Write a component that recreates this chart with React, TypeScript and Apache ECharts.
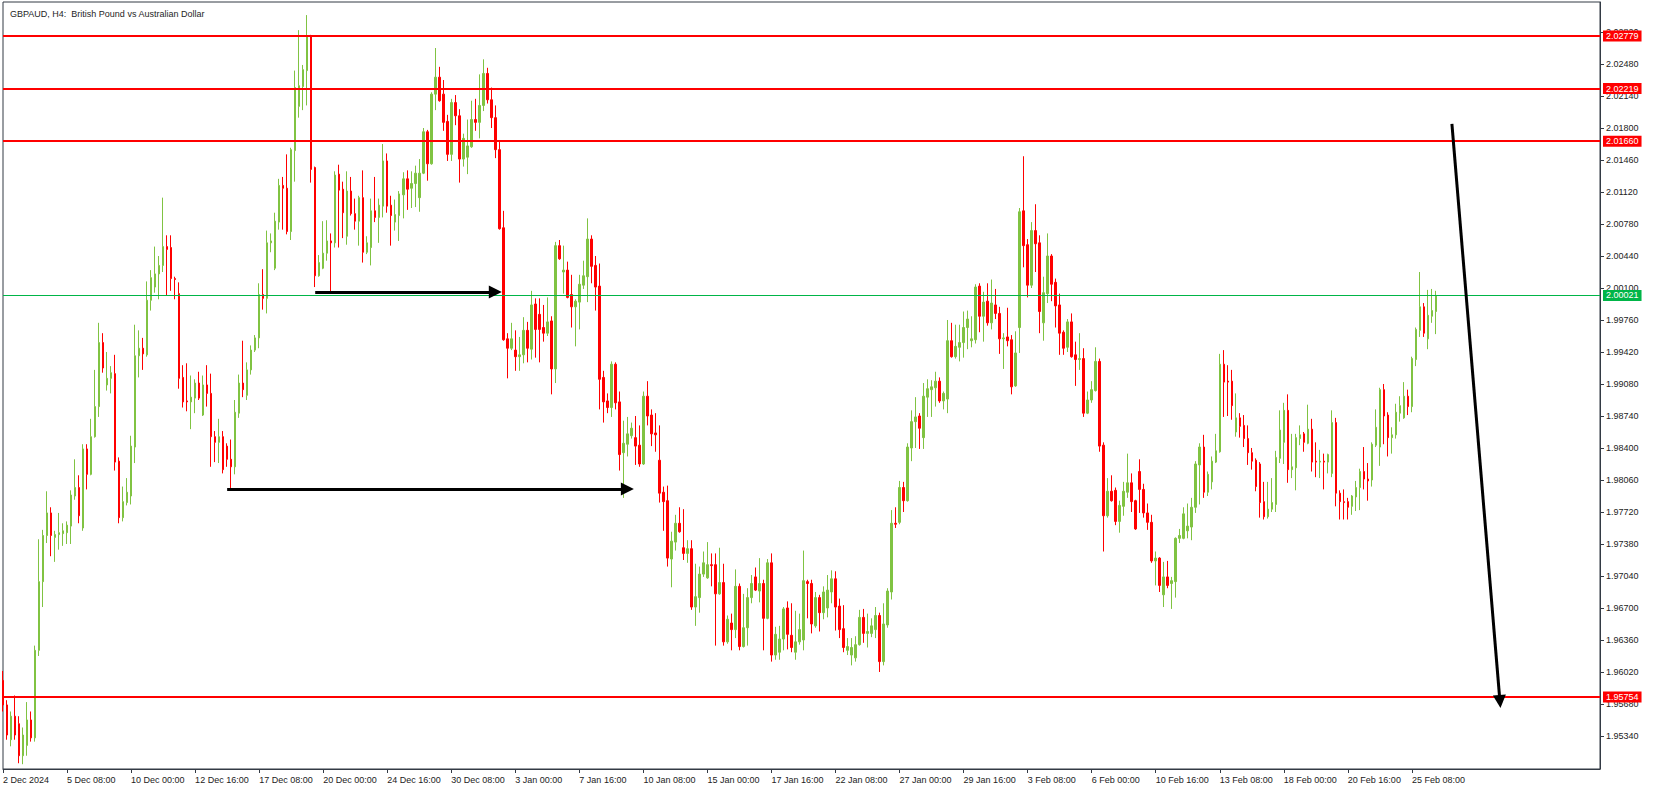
import React, { useEffect, useRef } from "react";
import * as echarts from "echarts";

const chartTitle = "GBPAUD, H4:  British Pound vs Australian Dollar";

const timeLabels = [
  "2 Dec 2024", "5 Dec 08:00", "10 Dec 00:00", "12 Dec 16:00", "17 Dec 08:00", "20 Dec 00:00",
  "24 Dec 16:00", "30 Dec 08:00", "3 Jan 00:00", "7 Jan 16:00", "10 Jan 08:00", "15 Jan 00:00",
  "17 Jan 16:00", "22 Jan 08:00", "27 Jan 00:00", "29 Jan 16:00", "3 Feb 08:00", "6 Feb 00:00",
  "10 Feb 16:00", "13 Feb 08:00", "18 Feb 00:00", "20 Feb 16:00", "25 Feb 08:00",
];
const barsPerLabel = 16;
const totalSlots = 400;

const priceTicks = [
  "1.95340", "1.95680", "1.96020", "1.96360", "1.96700", "1.97040", "1.97380", "1.97720",
  "1.98060", "1.98400", "1.98740", "1.99080", "1.99420", "1.99760", "2.00100", "2.00440",
  "2.00780", "2.01120", "2.01460", "2.01800", "2.02140", "2.02480", "2.02820",
];
const yMin = 1.94989;
const yMax = 2.03139;

const levelLines = [2.02779, 2.02219, 2.0166, 1.95754];
const bidPrice = 2.00021;

const opens = [
  1.9593, 1.9567, 1.9530, 1.9555, 1.9547, 1.9513, 1.9524, 1.9551, 1.9532, 1.9625,
  1.9698, 1.9747, 1.9771, 1.9745, 1.9748, 1.9749, 1.9750, 1.9757, 1.9789, 1.9798,
  1.9755, 1.9839, 1.9812, 1.9852, 1.9884, 1.9952, 1.9907, 1.9914, 1.9919, 1.9826,
  1.9766, 1.9782, 1.9789, 1.9841, 1.9938, 1.9946, 1.9939, 1.9997, 2.0011, 2.0025,
  2.0034, 2.0054, 2.0053, 2.0020, 2.0004, 1.9915, 1.9890, 1.9889, 1.9893, 1.9909,
  1.9875, 1.9907, 1.9898, 1.9852, 1.9846, 1.9852, 1.9842, 1.9828, 1.9820, 1.9877,
  1.9909, 1.9896, 1.9923, 1.9944, 1.9957, 2.0003, 1.9999, 2.0058, 2.0031, 2.0080,
  2.0119, 2.0116, 2.0070, 2.0156, 2.0203, 2.0224, 2.0241, 2.0277, 2.0138, 2.0023,
  2.0031, 2.0047, 2.0060, 2.0058, 2.0131, 2.0115, 2.0065, 2.0113, 2.0089, 2.0081,
  2.0106, 2.0048, 2.0053, 2.0092, 2.0085, 2.0097, 2.0145, 2.0098, 2.0080, 2.0087,
  2.0109, 2.0126, 2.0116, 2.0121, 2.0106, 2.0132, 2.0176, 2.0142, 2.0216, 2.0234,
  2.0216, 2.0187, 2.0152, 2.0207, 2.0193, 2.0147, 2.0149, 2.0160, 2.0189, 2.0186,
  2.0204, 2.0238, 2.0210, 2.0191, 2.0157, 2.0074, 1.9956, 1.9946, 1.9944, 1.9937,
  1.9939, 1.9965, 1.9945, 1.9993, 1.9982, 1.9968, 1.9962, 1.9975, 1.9924, 2.0055,
  2.0027, 2.0029, 2.0003, 1.9990, 1.9995, 2.0013, 2.0022, 2.0062, 2.0034, 2.0012,
  1.9915, 1.9890, 1.9883, 1.9929, 1.9889, 1.9835, 1.9844, 1.9853, 1.9851, 1.9843,
  1.9823, 1.9895, 1.9875, 1.9856, 1.9827, 1.9793, 1.9784, 1.9722, 1.9740, 1.9760,
  1.9734, 1.9728, 1.9733, 1.9671, 1.9681, 1.9706, 1.9702, 1.9716, 1.9716, 1.9685,
  1.9697, 1.9634, 1.9654, 1.9647, 1.9693, 1.9629, 1.9649, 1.9681, 1.9703, 1.9688,
  1.9696, 1.9659, 1.9718, 1.9620, 1.9623, 1.9637, 1.9670, 1.9641, 1.9623, 1.9634,
  1.9636, 1.9698, 1.9696, 1.9651, 1.9681, 1.9665, 1.9670, 1.9687, 1.9701, 1.9672,
  1.9648, 1.9625, 1.9620, 1.9617, 1.9631, 1.9660, 1.9643, 1.9643, 1.9647, 1.9662,
  1.9613, 1.9652, 1.9687, 1.9760, 1.9761, 1.9798, 1.9784, 1.9840, 1.9868, 1.9874,
  1.9851, 1.9894, 1.9902, 1.9904, 1.9911, 1.9890, 1.9892, 1.9954, 1.9937, 1.9947,
  1.9952, 1.9968, 1.9954, 1.9955, 2.0012, 1.9980, 1.9996, 1.9973, 1.9992, 1.9983,
  1.9956, 1.9958, 1.9955, 1.9906, 1.9968, 2.0092, 2.0056, 2.0013, 2.0071, 2.0058,
  1.9973, 2.0004, 2.0044, 2.0016, 1.9992, 1.9963, 1.9947, 1.9974, 1.9939, 1.9934,
  1.9935, 1.9877, 1.9891, 1.9901, 1.9932, 1.9843, 1.9768, 1.9794, 1.9795, 1.9762,
  1.9778, 1.9793, 1.9803, 1.9784, 1.9815, 1.9796, 1.9771, 1.9761, 1.9720, 1.9723,
  1.9684, 1.9703, 1.9696, 1.9698, 1.9744, 1.9744, 1.9752, 1.9756, 1.9777, 1.9822,
  1.9841, 1.9793, 1.9804, 1.9825, 1.9836, 1.9929, 1.9911, 1.9911, 1.9857, 1.9872,
  1.9864, 1.9850, 1.9835, 1.9827, 1.9823, 1.9783, 1.9767, 1.9775, 1.9780, 1.9829,
  1.9846, 1.9880, 1.9817, 1.9819, 1.9850, 1.9855, 1.9845, 1.9860, 1.9826, 1.9825,
  1.9826, 1.9825, 1.9813, 1.9867, 1.9792, 1.9783, 1.9783, 1.9778, 1.9788, 1.9798,
  1.9815, 1.9807, 1.9806, 1.9843, 1.9841, 1.9902, 1.9875, 1.9851, 1.9854, 1.9877,
  1.9872, 1.9895, 1.9884, 1.9934, 1.9965, 1.9990, 1.9956, 1.9980, 1.9985,
];

const closes = [
  1.9567, 1.9535, 1.9555, 1.9535, 1.9513, 1.9535, 1.9551, 1.9532, 1.9625, 1.9698,
  1.9747, 1.9771, 1.9747, 1.9748, 1.9750, 1.9752, 1.9758, 1.9790, 1.9798, 1.9768,
  1.9839, 1.9812, 1.9852, 1.9884, 1.9952, 1.9925, 1.9914, 1.9920, 1.9825, 1.9766,
  1.9783, 1.9793, 1.9842, 1.9938, 1.9946, 1.9940, 1.9997, 2.0021, 2.0025, 2.0034,
  2.0054, 2.0051, 2.0020, 2.0019, 1.9914, 1.9889, 1.9889, 1.9894, 1.9909, 1.9893,
  1.9907, 1.9898, 1.9852, 1.9846, 1.9852, 1.9817, 1.9828, 1.9820, 1.9878, 1.9909,
  1.9902, 1.9923, 1.9944, 1.9957, 2.0003, 1.9999, 2.0058, 2.0060, 2.0081, 2.0119,
  2.0116, 2.0070, 2.0157, 2.0223, 2.0225, 2.0242, 2.0277, 2.0136, 2.0023, 2.0037,
  2.0047, 2.0060, 2.0058, 2.0130, 2.0114, 2.0090, 2.0113, 2.0089, 2.0081, 2.0106,
  2.0048, 2.0058, 2.0092, 2.0085, 2.0098, 2.0145, 2.0097, 2.0087, 2.0088, 2.0110,
  2.0126, 2.0115, 2.0121, 2.0132, 2.0132, 2.0176, 2.0142, 2.0216, 2.0234, 2.0209,
  2.0186, 2.0152, 2.0207, 2.0193, 2.0147, 2.0169, 2.0161, 2.0189, 2.0186, 2.0204,
  2.0238, 2.0210, 2.0191, 2.0157, 2.0073, 1.9955, 1.9946, 1.9956, 1.9937, 1.9939,
  1.9965, 1.9946, 1.9992, 1.9966, 1.9966, 1.9962, 1.9974, 1.9924, 2.0055, 2.0041,
  2.0029, 2.0000, 1.9990, 1.9996, 2.0014, 2.0023, 2.0062, 2.0033, 2.0011, 1.9913,
  1.9889, 1.9883, 1.9929, 1.9888, 1.9833, 1.9845, 1.9855, 1.9861, 1.9842, 1.9823,
  1.9895, 1.9874, 1.9855, 1.9854, 1.9792, 1.9783, 1.9723, 1.9741, 1.9760, 1.9751,
  1.9728, 1.9733, 1.9671, 1.9682, 1.9706, 1.9718, 1.9716, 1.9715, 1.9685, 1.9697,
  1.9634, 1.9658, 1.9647, 1.9693, 1.9629, 1.9649, 1.9681, 1.9696, 1.9689, 1.9696,
  1.9659, 1.9718, 1.9620, 1.9642, 1.9637, 1.9669, 1.9642, 1.9628, 1.9634, 1.9647,
  1.9699, 1.9696, 1.9653, 1.9681, 1.9665, 1.9687, 1.9689, 1.9701, 1.9671, 1.9647,
  1.9628, 1.9629, 1.9628, 1.9631, 1.9660, 1.9643, 1.9645, 1.9651, 1.9662, 1.9613,
  1.9653, 1.9688, 1.9760, 1.9759, 1.9798, 1.9784, 1.9841, 1.9868, 1.9873, 1.9861,
  1.9895, 1.9903, 1.9905, 1.9911, 1.9890, 1.9898, 1.9954, 1.9937, 1.9948, 1.9952,
  1.9968, 1.9977, 1.9956, 2.0011, 1.9980, 1.9995, 1.9973, 1.9994, 1.9983, 1.9956,
  1.9957, 1.9954, 1.9905, 1.9941, 2.0091, 2.0055, 2.0013, 2.0071, 2.0057, 1.9985,
  2.0005, 2.0044, 2.0014, 1.9991, 1.9962, 1.9946, 1.9974, 1.9937, 1.9934, 1.9935,
  1.9877, 1.9891, 1.9902, 1.9932, 1.9842, 1.9768, 1.9794, 1.9784, 1.9762, 1.9779,
  1.9794, 1.9803, 1.9783, 1.9754, 1.9796, 1.9771, 1.9761, 1.9720, 1.9723, 1.9694,
  1.9703, 1.9694, 1.9699, 1.9744, 1.9747, 1.9770, 1.9757, 1.9777, 1.9823, 1.9841,
  1.9793, 1.9812, 1.9826, 1.9837, 1.9929, 1.9910, 1.9910, 1.9885, 1.9872, 1.9863,
  1.9850, 1.9835, 1.9826, 1.9799, 1.9782, 1.9767, 1.9775, 1.9782, 1.9830, 1.9859,
  1.9880, 1.9817, 1.9820, 1.9851, 1.9854, 1.9846, 1.9860, 1.9825, 1.9825, 1.9826,
  1.9825, 1.9833, 1.9867, 1.9792, 1.9783, 1.9782, 1.9777, 1.9789, 1.9798, 1.9815,
  1.9807, 1.9805, 1.9844, 1.9862, 1.9902, 1.9874, 1.9851, 1.9854, 1.9878, 1.9885,
  1.9895, 1.9884, 1.9935, 1.9966, 1.9990, 1.9962, 1.9981, 1.9986, 2.00021,
];

const lows = [
  1.9560, 1.9530, 1.9523, 1.9530, 1.9505, 1.9504, 1.9513, 1.9528, 1.9528, 1.9619,
  1.9671, 1.9739, 1.9725, 1.9719, 1.9732, 1.9736, 1.9738, 1.9738, 1.9785, 1.9760,
  1.9752, 1.9796, 1.9811, 1.9851, 1.9873, 1.9920, 1.9901, 1.9898, 1.9816, 1.9760,
  1.9762, 1.9779, 1.9780, 1.9824, 1.9915, 1.9923, 1.9937, 1.9986, 2.0005, 1.9998,
  2.0027, 2.0002, 2.0007, 1.9998, 1.9903, 1.9883, 1.9879, 1.9860, 1.9877, 1.9891,
  1.9874, 1.9884, 1.9820, 1.9825, 1.9824, 1.9813, 1.9820, 1.9796, 1.9812, 1.9872,
  1.9894, 1.9891, 1.9918, 1.9942, 1.9946, 1.9987, 1.9983, 2.0048, 2.0029, 2.0072,
  2.0072, 2.0067, 2.0061, 2.0123, 2.0191, 2.0199, 2.0204, 2.0122, 2.0011, 2.0022,
  2.0030, 2.0039, 2.0004, 2.0053, 2.0053, 2.0063, 2.0056, 2.0087, 2.0072, 2.0055,
  2.0037, 2.0046, 2.0034, 2.0080, 2.0058, 2.0085, 2.0090, 2.0055, 2.0071, 2.0060,
  2.0084, 2.0093, 2.0095, 2.0096, 2.0091, 2.0131, 2.0124, 2.0141, 2.0199, 2.0208,
  2.0177, 2.0145, 2.0145, 2.0183, 2.0122, 2.0139, 2.0131, 2.0159, 2.0177, 2.0169,
  2.0198, 2.0206, 2.0180, 2.0148, 2.0072, 1.9954, 1.9914, 1.9944, 1.9922, 1.9922,
  1.9930, 1.9931, 1.9934, 1.9936, 1.9931, 1.9953, 1.9959, 1.9897, 1.9909, 2.0040,
  2.0004, 1.9999, 1.9968, 1.9948, 1.9966, 2.0009, 1.9995, 2.0015, 1.9986, 1.9881,
  1.9867, 1.9877, 1.9873, 1.9881, 1.9816, 1.9787, 1.9831, 1.9850, 1.9822, 1.9820,
  1.9822, 1.9864, 1.9842, 1.9836, 1.9782, 1.9752, 1.9714, 1.9692, 1.9731, 1.9750,
  1.9721, 1.9718, 1.9668, 1.9651, 1.9665, 1.9703, 1.9701, 1.9693, 1.9630, 1.9684,
  1.9630, 1.9632, 1.9625, 1.9638, 1.9625, 1.9628, 1.9630, 1.9675, 1.9688, 1.9676,
  1.9625, 1.9658, 1.9613, 1.9615, 1.9615, 1.9625, 1.9626, 1.9623, 1.9615, 1.9631,
  1.9625, 1.9659, 1.9643, 1.9649, 1.9645, 1.9658, 1.9660, 1.9675, 1.9646, 1.9638,
  1.9623, 1.9620, 1.9609, 1.9613, 1.9630, 1.9633, 1.9628, 1.9639, 1.9638, 1.9602,
  1.9609, 1.9649, 1.9679, 1.9755, 1.9759, 1.9772, 1.9783, 1.9826, 1.9840, 1.9839,
  1.9839, 1.9873, 1.9873, 1.9884, 1.9888, 1.9881, 1.9877, 1.9936, 1.9935, 1.9932,
  1.9936, 1.9945, 1.9947, 1.9951, 1.9963, 1.9953, 1.9970, 1.9966, 1.9977, 1.9940,
  1.9924, 1.9948, 1.9897, 1.9905, 1.9941, 2.0032, 2.0000, 2.0010, 2.0027, 1.9962,
  1.9954, 1.9994, 1.9996, 1.9968, 1.9939, 1.9939, 1.9942, 1.9936, 1.9906, 1.9923,
  1.9873, 1.9876, 1.9888, 1.9900, 1.9836, 1.9730, 1.9766, 1.9783, 1.9758, 1.9750,
  1.9768, 1.9787, 1.9772, 1.9753, 1.9771, 1.9766, 1.9753, 1.9718, 1.9694, 1.9687,
  1.9671, 1.9691, 1.9669, 1.9681, 1.9739, 1.9743, 1.9744, 1.9742, 1.9771, 1.9780,
  1.9787, 1.9789, 1.9796, 1.9824, 1.9835, 1.9873, 1.9874, 1.9870, 1.9852, 1.9851,
  1.9841, 1.9822, 1.9817, 1.9794, 1.9766, 1.9764, 1.9765, 1.9772, 1.9772, 1.9824,
  1.9823, 1.9803, 1.9808, 1.9795, 1.9843, 1.9836, 1.9844, 1.9815, 1.9809, 1.9808,
  1.9796, 1.9813, 1.9809, 1.9778, 1.9764, 1.9764, 1.9764, 1.9769, 1.9773, 1.9774,
  1.9796, 1.9784, 1.9799, 1.9841, 1.9821, 1.9844, 1.9831, 1.9834, 1.9850, 1.9868,
  1.9871, 1.9875, 1.9878, 1.9927, 1.9958, 1.9958, 1.9945, 1.9973, 1.9961,
];

const highs = [
  1.9603, 1.9572, 1.9560, 1.9577, 1.9555, 1.9543, 1.9570, 1.9560, 1.9630, 1.9743,
  1.9753, 1.9794, 1.9777, 1.9752, 1.9771, 1.9760, 1.9762, 1.9795, 1.9828, 1.9811,
  1.9844, 1.9844, 1.9871, 1.9923, 1.9973, 1.9962, 1.9942, 1.9927, 1.9939, 1.9830,
  1.9799, 1.9808, 1.9853, 1.9971, 1.9965, 1.9957, 2.0017, 2.0029, 2.0054, 2.0044,
  2.0106, 2.0066, 2.0066, 2.0022, 2.0016, 1.9928, 1.9930, 1.9917, 1.9913, 1.9921,
  1.9917, 1.9928, 1.9919, 1.9858, 1.9871, 1.9858, 1.9845, 1.9849, 1.9891, 1.9918,
  1.9954, 1.9931, 1.9949, 1.9960, 2.0015, 2.0030, 2.0071, 2.0068, 2.0090, 2.0126,
  2.0128, 2.0152, 2.0159, 2.0241, 2.0284, 2.0247, 2.0300, 2.0279, 2.0139, 2.0045,
  2.0081, 2.0082, 2.0068, 2.0134, 2.0141, 2.0123, 2.0134, 2.0128, 2.0105, 2.0108,
  2.0135, 2.0065, 2.0105, 2.0128, 2.0105, 2.0163, 2.0153, 2.0108, 2.0104, 2.0113,
  2.0133, 2.0135, 2.0134, 2.0140, 2.0147, 2.0180, 2.0178, 2.0218, 2.0265, 2.0245,
  2.0231, 2.0194, 2.0211, 2.0215, 2.0200, 2.0174, 2.0189, 2.0209, 2.0211, 2.0237,
  2.0253, 2.0244, 2.0223, 2.0204, 2.0167, 2.0092, 1.9962, 1.9973, 1.9965, 1.9958,
  1.9979, 1.9974, 2.0007, 1.9999, 1.9999, 1.9992, 2.0000, 1.9980, 2.0059, 2.0061,
  2.0055, 2.0038, 2.0024, 1.9998, 2.0024, 2.0039, 2.0084, 2.0066, 2.0044, 2.0036,
  1.9922, 1.9898, 1.9932, 1.9931, 1.9900, 1.9869, 1.9873, 1.9867, 1.9874, 1.9864,
  1.9900, 1.9911, 1.9881, 1.9877, 1.9864, 1.9799, 1.9800, 1.9751, 1.9769, 1.9777,
  1.9775, 1.9742, 1.9742, 1.9717, 1.9714, 1.9730, 1.9740, 1.9728, 1.9728, 1.9734,
  1.9717, 1.9662, 1.9664, 1.9711, 1.9696, 1.9685, 1.9691, 1.9705, 1.9713, 1.9723,
  1.9700, 1.9722, 1.9728, 1.9650, 1.9651, 1.9671, 1.9677, 1.9675, 1.9667, 1.9664,
  1.9731, 1.9700, 1.9700, 1.9687, 1.9684, 1.9693, 1.9705, 1.9710, 1.9709, 1.9680,
  1.9673, 1.9638, 1.9638, 1.9640, 1.9668, 1.9669, 1.9664, 1.9659, 1.9671, 1.9665,
  1.9675, 1.9691, 1.9774, 1.9777, 1.9805, 1.9804, 1.9845, 1.9880, 1.9894, 1.9877,
  1.9909, 1.9913, 1.9912, 1.9921, 1.9915, 1.9900, 1.9976, 1.9973, 1.9971, 1.9971,
  1.9985, 1.9986, 1.9980, 2.0014, 2.0015, 2.0006, 2.0015, 2.0019, 2.0009, 1.9990,
  1.9962, 1.9989, 1.9960, 1.9964, 2.0095, 2.0150, 2.0062, 2.0080, 2.0099, 2.0066,
  2.0022, 2.0068, 2.0046, 2.0020, 2.0004, 1.9965, 1.9977, 1.9983, 1.9953, 1.9962,
  1.9946, 1.9900, 1.9911, 1.9947, 1.9935, 1.9846, 1.9808, 1.9811, 1.9798, 1.9784,
  1.9804, 1.9834, 1.9813, 1.9785, 1.9828, 1.9802, 1.9781, 1.9769, 1.9730, 1.9724,
  1.9719, 1.9720, 1.9703, 1.9745, 1.9754, 1.9777, 1.9781, 1.9787, 1.9826, 1.9845,
  1.9854, 1.9815, 1.9831, 1.9855, 1.9940, 1.9944, 1.9928, 1.9923, 1.9898, 1.9877,
  1.9875, 1.9864, 1.9840, 1.9829, 1.9825, 1.9804, 1.9804, 1.9808, 1.9837, 1.9880,
  1.9888, 1.9897, 1.9855, 1.9855, 1.9864, 1.9857, 1.9886, 1.9871, 1.9846, 1.9838,
  1.9834, 1.9834, 1.9880, 1.9872, 1.9795, 1.9796, 1.9787, 1.9790, 1.9805, 1.9818,
  1.9841, 1.9824, 1.9846, 1.9881, 1.9904, 1.9908, 1.9878, 1.9862, 1.9887, 1.9895,
  1.9910, 1.9902, 1.9937, 1.9968, 2.0027, 1.9994, 2.0008, 2.0009, 2.0007,
];

// Drawn annotations, in (bar index, price) coordinates
const arrowStarts = [
  [77.65, 2.00057],
  [55.9, 1.97964],
  [361.6, 2.01843],
];
const arrowEnds = [
  [123.2, 2.00057],
  [155.9, 1.97964],
  [373.8, 1.95707],
];

const UP = "#80c342";
const DOWN = "#ff0000";
const FRAME = "#333a44";
const FONT = "'Liberation Sans', Arial, sans-serif";

const isLabelSlot = (index: number) =>
  index % barsPerLabel === 0 && index / barsPerLabel < timeLabels.length;

export default function App() {
  const ref = useRef<HTMLDivElement | null>(null);

  useEffect(() => {
    if (!ref.current) return;
    const chart = echarts.init(ref.current, undefined, { renderer: "svg" });

    const categories = Array.from({ length: totalSlots }, (_, i) => String(i));
    const candles = opens.map((o, i) => [o, closes[i], lows[i], highs[i]]);

    const badge = (bg: string) => ({
      show: true,
      position: "end",
      distance: 3,
      color: "#ffffff",
      backgroundColor: bg,
      fontFamily: FONT,
      fontSize: 9,
      lineHeight: 10,
      padding: [1, 3, 0, 3],
    });

    const levelItems: any[] = levelLines.map((v) => ({
      yAxis: v,
      lineStyle: { color: DOWN, width: 2, type: "solid" },
      label: { ...badge(DOWN), formatter: v.toFixed(5) },
    }));
    levelItems.push({
      yAxis: bidPrice,
      lineStyle: { color: "#00b548", width: 1, type: "solid" },
      label: { ...badge("#00b548"), formatter: bidPrice.toFixed(5) },
    });

    const arrowItems: any[] = arrowStarts.map((s, i) => [
      {
        coord: s,
        symbol: "none",
        lineStyle: { color: "#000000", width: 3, type: "solid" },
        label: { show: false },
      },
      {
        coord: arrowEnds[i],
        symbol: "triangle",
        symbolSize: 13,
      },
    ]);

    const option: any = {
      animation: false,
      backgroundColor: "#ffffff",
      title: {
        text: chartTitle,
        left: 5,
        top: 4,
        textStyle: { fontFamily: FONT, fontSize: 9, fontWeight: "normal", color: "#1e1e1e" },
      },
      grid: {
        left: 2,
        right: 53,
        top: 2,
        bottom: 21,
        show: true,
        borderColor: FRAME,
        borderWidth: 1,
        backgroundColor: "#ffffff",
      },
      xAxis: {
        type: "category",
        data: categories,
        boundaryGap: false,
        axisLine: { show: true, lineStyle: { color: FRAME, width: 1 } },
        axisTick: {
          show: true,
          length: 4,
          interval: (index: number) => isLabelSlot(index),
          lineStyle: { color: FRAME },
        },
        axisLabel: {
          show: true,
          interval: (index: number) => isLabelSlot(index),
          formatter: (_v: string, index: number) =>
            isLabelSlot(index) ? timeLabels[index / barsPerLabel] : "",
          align: "left",
          margin: 6,
          fontFamily: FONT,
          fontSize: 9,
          color: "#222222",
        },
        splitLine: { show: false },
      },
      yAxis: {
        type: "value",
        position: "right",
        min: yMin,
        max: yMax,
        scale: true,
        axisLine: { show: true, lineStyle: { color: FRAME, width: 1 } },
        axisTick: {
          show: true,
          length: 4,
          customValues: priceTicks.map(Number),
          lineStyle: { color: FRAME },
        },
        axisLabel: {
          show: true,
          customValues: priceTicks.map(Number),
          formatter: (v: number) => v.toFixed(5),
          margin: 6,
          fontFamily: FONT,
          fontSize: 9,
          color: "#222222",
        },
        splitLine: { show: false },
      },
      series: [
        {
          type: "candlestick",
          data: candles,
          barWidth: 2,
          itemStyle: {
            color: UP,
            color0: DOWN,
            borderColor: UP,
            borderColor0: DOWN,
            borderWidth: 1,
          },
          emphasis: { disabled: true },
          markLine: {
            silent: true,
            animation: false,
            symbol: ["none", "none"],
            precision: 5,
            emphasis: { disabled: true },
            data: [...levelItems, ...arrowItems],
          },
        },
      ],
    };

    chart.setOption(option);
    return () => chart.dispose();
  }, []);

  return (
    <div
      ref={ref}
      style={{ position: "fixed", left: 0, top: 0, width: 1653, height: 790, background: "#fff" }}
    />
  );
}
